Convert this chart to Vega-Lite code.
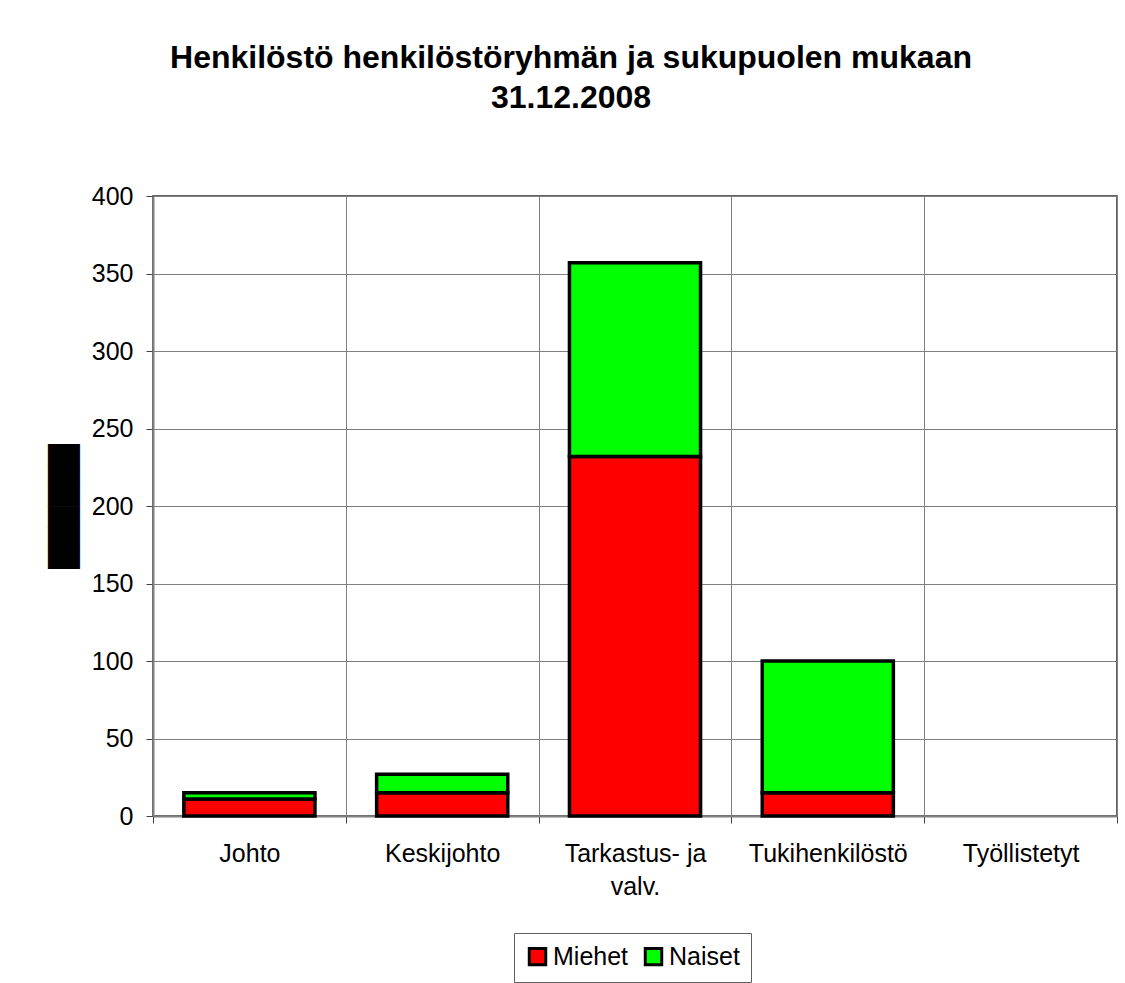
{
  "$schema": "https://vega.github.io/schema/vega-lite/v6.json",
  "width": 964,
  "height": 620,
  "autosize": "none",
  "padding": {"left": 153, "top": 196, "right": 8, "bottom": 167},
  "background": "white",
  "title": {
    "text": ["Henkilöstö henkilöstöryhmän ja sukupuolen mukaan", "31.12.2008"],
    "font": "Liberation Sans",
    "fontSize": 32,
    "fontWeight": "bold",
    "color": "black",
    "anchor": "middle",
    "frame": "group",
    "dx": -64,
    "lineHeight": 40,
    "offset": 69
  },
  "data": {
    "values": [
      {"group": "Johto", "sex": "Miehet", "value": 11},
      {"group": "Johto", "sex": "Naiset", "value": 4},
      {"group": "Keskijohto", "sex": "Miehet", "value": 15},
      {"group": "Keskijohto", "sex": "Naiset", "value": 12},
      {"group": "Tarkastus- ja valv.", "sex": "Miehet", "value": 232},
      {"group": "Tarkastus- ja valv.", "sex": "Naiset", "value": 125},
      {"group": "Tukihenkilöstö", "sex": "Miehet", "value": 15},
      {"group": "Tukihenkilöstö", "sex": "Naiset", "value": 85}
    ]
  },
  "mark": {"type": "bar", "stroke": "black", "strokeWidth": 3.5, "width": {"band": 0.68}},
  "encoding": {
    "x": {
      "field": "group",
      "type": "nominal",
      "scale": {
        "domain": ["Johto", "Keskijohto", "Tarkastus- ja valv.", "Tukihenkilöstö", "Työllistetyt"],
        "paddingInner": 0,
        "paddingOuter": 0
      },
      "axis": {
        "title": null,
        "labelAngle": 0,
        "tickBand": "extent",
        "grid": true,
        "gridColor": "#808080",
        "gridWidth": 1,
        "domainColor": "#808080",
        "domainWidth": 2,
        "tickColor": "#404040",
        "tickSize": 7,
        "labelPadding": 18,
        "labelFont": "Liberation Sans",
        "labelFontSize": 25,
        "labelColor": "black",
        "labelLineHeight": 33,
        "labelExpr": "datum.label == 'Tarkastus- ja valv.' ? ['Tarkastus- ja', 'valv.'] : datum.label"
      }
    },
    "y": {
      "field": "value",
      "type": "quantitative",
      "aggregate": "sum",
      "stack": "zero",
      "scale": {"domain": [0, 400], "nice": false},
      "axis": {
        "title": "██████",
        "titleFont": "DejaVu Sans",
        "titleFontSize": 27,
        "titleFontWeight": "normal",
        "titleColor": "black",
        "titlePadding": 13,
        "values": [0, 50, 100, 150, 200, 250, 300, 350, 400],
        "grid": true,
        "gridColor": "#808080",
        "gridWidth": 1,
        "domainColor": "#808080",
        "domainWidth": 2,
        "tickColor": "#404040",
        "tickSize": 7,
        "labelPadding": 13,
        "labelFont": "Liberation Sans",
        "labelFontSize": 25,
        "labelColor": "black"
      }
    },
    "color": {
      "field": "sex",
      "type": "nominal",
      "scale": {"domain": ["Miehet", "Naiset"], "range": ["#ff0000", "#00ff00"]},
      "legend": {
        "title": null,
        "orient": "none",
        "legendX": 361,
        "legendY": 737,
        "direction": "horizontal",
        "symbolType": "square",
        "symbolSize": 270,
        "symbolStrokeColor": "black",
        "symbolStrokeWidth": 3,
        "symbolOpacity": 1,
        "labelFont": "Liberation Sans",
        "labelFontSize": 25,
        "labelColor": "black",
        "labelOffset": 3,
        "columnPadding": 10,
        "padding": 11,
        "fillColor": "white",
        "strokeColor": "#606060"
      }
    },
    "order": {"field": "sex", "sort": "ascending"}
  },
  "config": {
    "view": {"stroke": "#303030", "strokeWidth": 1.5}
  }
}
